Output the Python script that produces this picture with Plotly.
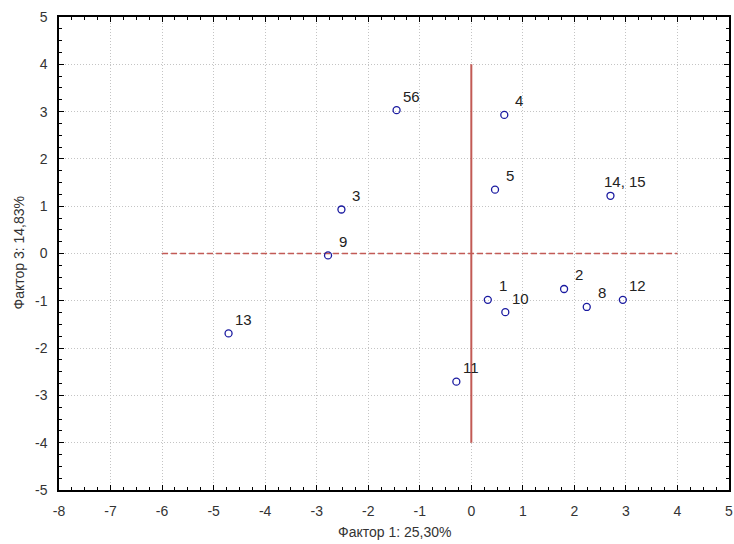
import plotly.graph_objects as go

# Data
labels = ["56", "4", "5", "14, 15", "3", "9", "1", "10", "2", "8", "12", "11", "13"]
factor1 = [-1.45, 0.64, 0.46, 2.70, -2.52, -2.78, 0.32, 0.66, 1.80, 2.24, 2.94, -0.29, -4.71]
factor3 = [3.03, 2.93, 1.35, 1.22, 0.93, -0.04, -0.98, -1.24, -0.75, -1.13, -0.98, -2.71, -1.69]

vline_x = [0, 0]
vline_y = [-4, 4]
hline_x = [-6, 4]
hline_y = [0, 0]

x_ticks = list(range(-8, 6))
y_ticks = list(range(-5, 6))
x_ticktext = [str(v) for v in x_ticks]
y_ticktext = [str(v) for v in y_ticks]

x_title = "Фактор 1: 25,30%"
y_title = "Фактор 3: 14,83%"

FONT = "Arial, 'Liberation Sans', sans-serif"
RED = "#c25a55"
TXT = "#333333"

fig = go.Figure()
fig.add_trace(go.Scatter(x=hline_x, y=hline_y, mode="lines",
                         line=dict(color=RED, width=1.5, dash="6px,3px"),
                         hoverinfo="skip", showlegend=False))
fig.add_trace(go.Scatter(x=vline_x, y=vline_y, mode="lines",
                         line=dict(color=RED, width=2),
                         hoverinfo="skip", showlegend=False))
fig.add_trace(go.Scatter(x=factor1, y=factor3, mode="markers",
                         marker=dict(symbol="circle-open", size=7,
                                     color="#1a1aa0", line=dict(width=1.3)),
                         showlegend=False))

for lx, ly, t in zip(factor1, factor3, labels):
    fig.add_annotation(x=lx, y=ly, text=t, showarrow=False,
                       xanchor="center", yanchor="middle",
                       xshift=15, yshift=14,
                       font=dict(family=FONT, size=15, color="#222222"))

axis_common = dict(
    showline=True, linecolor="black", linewidth=1.5, mirror="allticks",
    ticks="inside", ticklen=5, tickcolor="black", tickwidth=1,
    showgrid=True, gridcolor="#c4c4c4", griddash="1px,2px", gridwidth=1,
    zeroline=False, automargin=False, ticklabeloverflow="allow",
    tickfont=dict(family=FONT, size=14, color=TXT),
    minor=dict(ticks="inside", ticklen=3, tickcolor="black", dtick=0.25, showgrid=False),
)

fig.update_xaxes(range=[-8, 5], tickvals=x_ticks, ticktext=x_ticktext,
                 ticklabelstandoff=7, **axis_common)
fig.update_yaxes(range=[-5, 5], tickvals=y_ticks, ticktext=y_ticktext,
                 ticklabelstandoff=7, **axis_common)

fig.add_annotation(xref="paper", yref="paper", x=0.5, y=0, yshift=-42,
                   text=x_title, showarrow=False, xanchor="center", yanchor="middle",
                   font=dict(family=FONT, size=14, color=TXT))
fig.add_annotation(xref="paper", yref="paper", x=0, y=0.5, xshift=-41,
                   text=y_title, showarrow=False, textangle=-90,
                   xanchor="center", yanchor="middle",
                   font=dict(family=FONT, size=14, color=TXT))

fig.update_layout(
    width=734, height=544,
    margin=dict(l=59, r=5, t=17, b=54),
    plot_bgcolor="white", paper_bgcolor="white",
)

# remove the default page margin so the figure sits at the window's corner
fig.write_html("out.html",
               config={"displayModeBar": False},
               post_script="document.body.style.margin='0';document.body.style.overflow='hidden';")
